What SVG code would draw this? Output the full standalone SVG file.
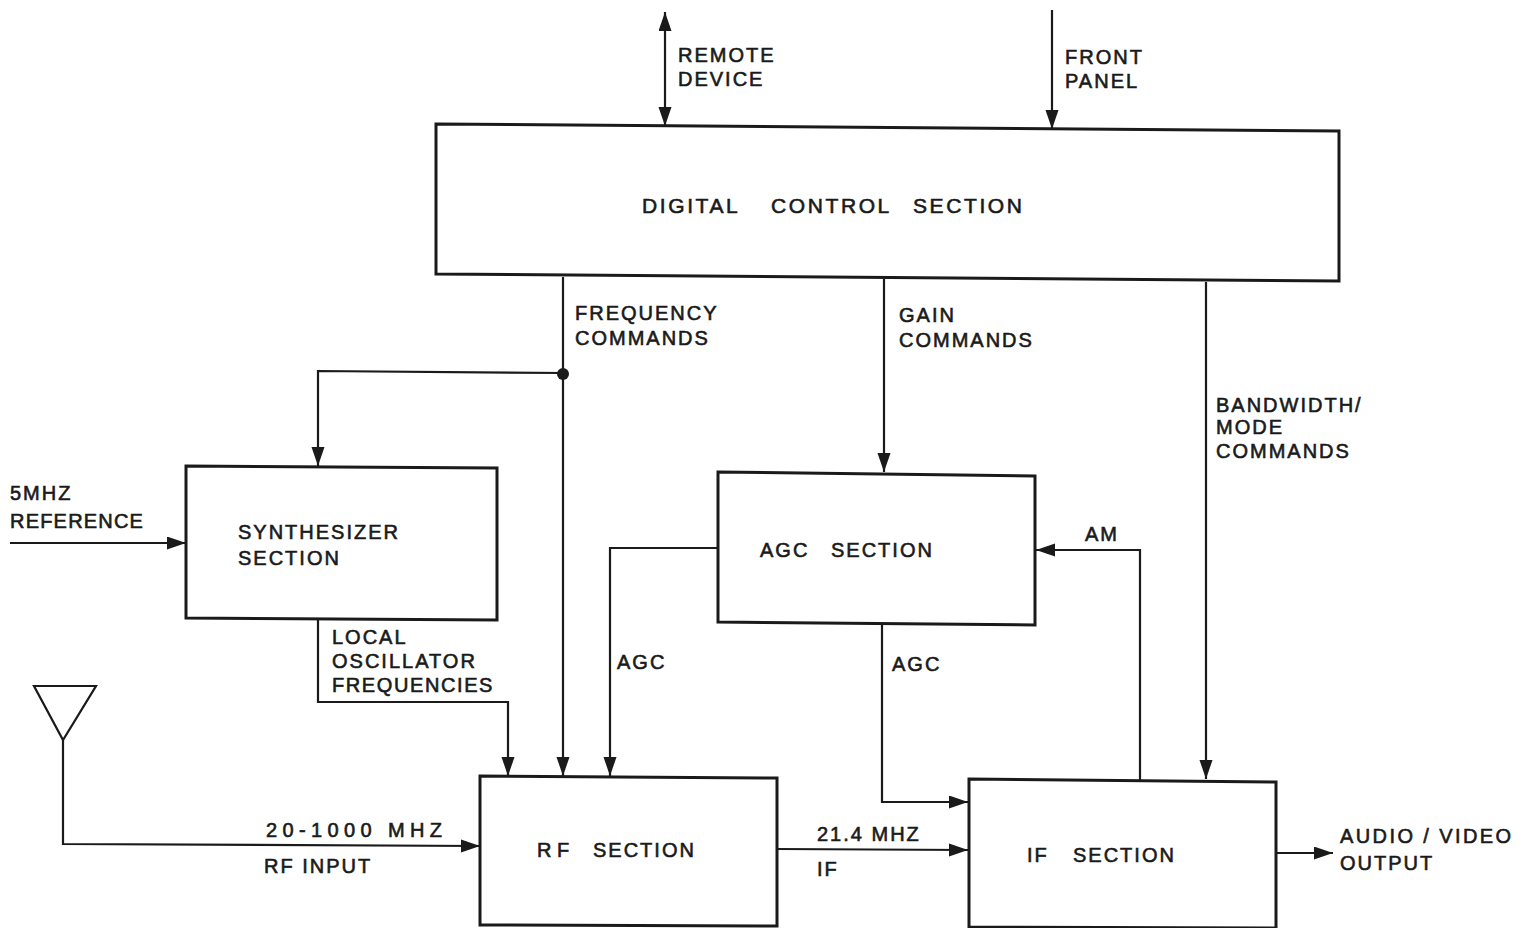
<svg xmlns="http://www.w3.org/2000/svg" width="1531" height="928" viewBox="0 0 1531 928">
<style>
.box{fill:none;stroke:#1a1a1a;stroke-width:3}
.ln{fill:none;stroke:#1a1a1a;stroke-width:2.2}
.arr{marker-end:url(#ah)}
text{font-family:"Liberation Sans",Arial,sans-serif;fill:#1a1a1a;stroke:#1a1a1a;stroke-width:0.6;font-size:20px;letter-spacing:2px}
.big{font-size:21px;letter-spacing:2.6px}
</style>
<defs>
<marker id="ah" markerUnits="userSpaceOnUse" markerWidth="22" markerHeight="14" refX="19" refY="6.5" orient="auto-start-reverse">
<path d="M0,0 L19,6.5 L0,13 z" fill="#1a1a1a"/>
</marker>
</defs>
<rect width="1531" height="928" fill="#fff"/>

<g id="connectors">
<line class="ln arr" x1="665" y1="12" x2="665" y2="126" marker-start="url(#ah)"/>
<line class="ln arr" x1="1052" y1="10" x2="1052" y2="129"/>
<polyline class="ln arr" points="563,277 563,776"/>
<polyline class="ln arr" points="563,373 318,371 318,466"/>
<polyline class="ln arr" points="884,279 884,472"/>
<polyline class="ln arr" points="1206,282 1206,779"/>
<polyline class="ln arr" points="10,543 186,543"/>
<polyline class="ln arr" points="318,619 318,702 508,702 508,776"/>
<polyline class="ln arr" points="718,548 610,548 610,776"/>
<polyline class="ln arr" points="882,624 882,802 968,802"/>
<polyline class="ln arr" points="1140,780 1140,550 1036,550"/>
<polyline class="ln arr" points="63,740 63,844 480,846"/>
<polyline class="ln arr" points="777,849 968,850"/>
<polyline class="ln arr" points="1276,853 1333,853"/>
<circle cx="563" cy="374" r="6" fill="#1a1a1a"/>
<polygon class="ln" points="34,686 96,686 63,740"/>
</g>

<g id="dcs">
<path class="box" d="M436,124 L1339,131 L1339,281 L436,274 Z"/>
<text class="big" y="213"><tspan x="642">DIGITAL</tspan><tspan x="771">CONTROL</tspan><tspan x="913">SECTION</tspan></text>
</g>

<g id="synth">
<path class="box" d="M186,466 L497,468 L497,620 L186,618 Z"/>
<text x="238" y="539">SYNTHESIZER</text>
<text x="238" y="565">SECTION</text>
</g>

<g id="agc">
<path class="box" d="M718,472 L1035,476 L1035,625 L718,622 Z"/>
<text y="557"><tspan x="760">AGC</tspan><tspan x="831">SECTION</tspan></text>
</g>

<g id="rf">
<path class="box" d="M480,776 L777,778 L777,926 L480,925 Z"/>
<text y="857"><tspan x="537">R</tspan><tspan x="557">F</tspan><tspan x="593">SECTION</tspan></text>
</g>

<g id="if">
<path class="box" d="M969,779 L1276,782 L1276,928 L969,927 Z"/>
<text y="862"><tspan x="1027">IF</tspan><tspan x="1073">SECTION</tspan></text>
</g>

<g id="labels">
<text x="678" y="62">REMOTE</text>
<text x="678" y="86">DEVICE</text>
<text x="1065" y="64">FRONT</text>
<text x="1065" y="88">PANEL</text>
<text x="575" y="320">FREQUENCY</text>
<text x="575" y="345">COMMANDS</text>
<text x="899" y="322">GAIN</text>
<text x="899" y="347">COMMANDS</text>
<text x="1216" y="412">BANDWIDTH/</text>
<text x="1216" y="434">MODE</text>
<text x="1216" y="458">COMMANDS</text>
<text x="10" y="500">5MHZ</text>
<text x="10" y="528" style="letter-spacing:1.2px">REFERENCE</text>
<text x="332" y="644">LOCAL</text>
<text x="332" y="668">OSCILLATOR</text>
<text x="332" y="692" style="letter-spacing:1.6px">FREQUENCIES</text>
<text x="617" y="669">AGC</text>
<text x="892" y="671">AGC</text>
<text x="1085" y="541">AM</text>
<text x="266" y="837" textLength="178" lengthAdjust="spacing">20-1000 MHZ</text>
<text x="264" y="873">RF INPUT</text>
<text x="817" y="841">21.4 MHZ</text>
<text x="817" y="876">IF</text>
<text x="1340" y="843" style="letter-spacing:2.4px">AUDIO / VIDEO</text>
<text x="1340" y="870">OUTPUT</text>
</g>
</svg>
